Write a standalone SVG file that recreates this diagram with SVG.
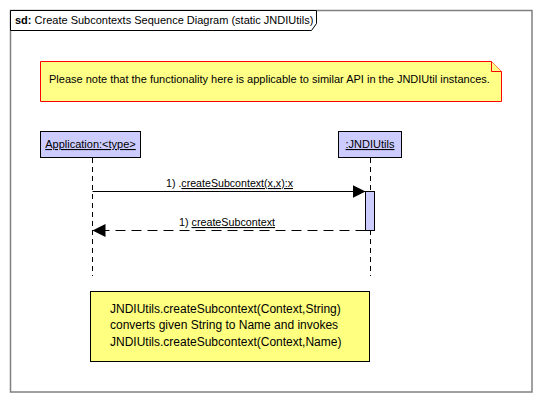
<svg xmlns="http://www.w3.org/2000/svg" width="542" height="402" viewBox="0 0 542 402">
<defs>
<style>
text{font-family:"Liberation Sans",Arial,sans-serif;font-size:11px;fill:#000}
.big{font-size:12px}
.frame{fill:#fff;stroke:#808080;stroke-width:1.5}
.tab{fill:#fff;stroke:#000;stroke-width:1}
.obj{fill:#ccccff;stroke:#000;stroke-width:1}
.life{stroke:#000;stroke-width:1;stroke-dasharray:5,4;fill:none}
.note1{fill:#ffff88;stroke:#ff0000;stroke-width:1}
.note2{fill:#ffff80;stroke:#000;stroke-width:1}
.msg{stroke:#000;stroke-width:1;fill:none}
.ret{stroke:#000;stroke-width:1;fill:none;stroke-dasharray:10,6}
.u{text-decoration:underline}
</style>
<marker id="ah" markerWidth="13" markerHeight="13" refX="13" refY="6.5" orient="auto" markerUnits="userSpaceOnUse">
<path d="M0,0 L13,6.5 L0,13 Z" fill="#000"/>
</marker>
</defs>
<rect width="542" height="402" fill="#fff"/>
<g id="frame">
<rect class="frame" x="10.5" y="10.5" width="521.5" height="381.5"/>
<path class="tab" d="M10.5,10.5 H316.5 V23.5 L311.5,30.5 H10.5 Z"/>
<text x="15" y="24"><tspan font-weight="bold">sd:</tspan> Create Subcontexts Sequence Diagram (static JNDIUtils)</text>
</g>
<g id="note-top">
<path class="note1" d="M40.5,61.5 H491.5 L501.5,71.5 V101.5 H40.5 Z"/>
<path class="note1" d="M491.5,61.5 V71.5 H501.5" fill="none"/>
<text x="49" y="83">Please note that the functionality here is applicable to similar API in the JNDIUtil instances.</text>
</g>
<g id="application">
<rect class="obj" x="40.5" y="131.5" width="100" height="26"/>
<text class="u" x="90.5" y="148" text-anchor="middle">Application:&lt;type&gt;</text>
<line class="life" x1="92.5" y1="158" x2="92.5" y2="276"/>
</g>
<g id="jndiutils">
<rect class="obj" x="338.5" y="131.5" width="63" height="26"/>
<text class="u" x="370" y="148" text-anchor="middle">:JNDIUtils</text>
<line class="life" x1="370.5" y1="158" x2="370.5" y2="276"/>
<rect class="obj" x="365.5" y="191.5" width="9" height="39"/>
</g>
<g id="connectors">
<line class="msg" x1="92.5" y1="191.5" x2="365.5" y2="191.5" marker-end="url(#ah)"/>
<text x="166" y="187" textLength="127" lengthAdjust="spacingAndGlyphs">1) .<tspan class="u">createSubcontext(x,x):x</tspan></text>
<line class="ret" x1="365.5" y1="230.5" x2="92.5" y2="230.5" marker-end="url(#ah)"/>
<text x="179" y="226" textLength="96" lengthAdjust="spacingAndGlyphs">1) <tspan class="u">createSubcontext</tspan></text>
</g>
<g id="note-bottom">
<rect class="note2" x="90.5" y="291.5" width="279" height="70"/>
<text class="big" x="110" y="313">JNDIUtils.createSubcontext(Context,String)</text>
<text class="big" x="110" y="329">converts given String to Name and invokes</text>
<text class="big" x="110" y="346">JNDIUtils.createSubcontext(Context,Name)</text>
</g>
</svg>
